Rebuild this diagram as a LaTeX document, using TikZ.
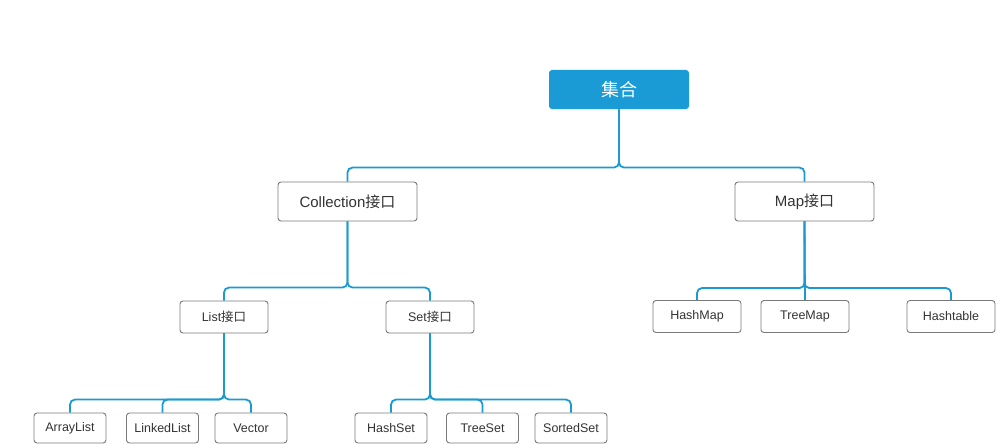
\documentclass[tikz,border=0pt]{standalone}
\usepackage{fontspec}
\setmainfont{Liberation Sans}
\newfontfamily\cjk{Noto Sans CJK SC}
\definecolor{linkblue}{HTML}{1A9AD0}
\definecolor{rootblue}{HTML}{1A9BD6}
\definecolor{boxgray}{HTML}{7A7A7A}
\definecolor{txtgray}{HTML}{333333}
\tikzset{
  box/.style={draw=boxgray, line width=0.9pt, rounded corners=3pt, fill=white,
    text=txtgray, inner sep=0pt, align=center},
  link/.style={draw=linkblue, line width=1.8pt, rounded corners=5pt}
}
\begin{document}
\begin{tikzpicture}[x=1pt,y=-1pt]
      \useasboundingbox (0,0) rectangle (996,444);

      \node[box, draw=none, fill=rootblue, text=white, minimum width=140pt, minimum height=39pt,
        font=\cjk\fontsize{18}{20}\selectfont] (jihe) at (619,89.5) {集合};

      \begin{scope}[every node/.style={box, minimum width=139pt, minimum height=39pt,
          font=\fontsize{15}{17}\selectfont}]
        \node (coll) at (347.5,201.5) {Collection{\cjk 接口}};
        \node (map)  at (804.5,201.5) {Map{\cjk 接口}};
      \end{scope}

      \begin{scope}[every node/.style={box, minimum width=88pt, minimum height=32pt,
          font=\fontsize{12.5}{14}\selectfont}]
        \node (list)    at (224,317)   {List{\cjk 接口}};
        \node (set)     at (430,317)   {Set{\cjk 接口}};
        \node (hashmap) at (697,316.5) {HashMap};
        \node (treemap) at (805,316.5) {TreeMap};
        \node (htable)  at (951,316.5) {Hashtable};
      \end{scope}

      \begin{scope}[every node/.style={box, minimum width=72pt, minimum height=30pt,
          font=\fontsize{12.5}{14}\selectfont}]
        \node (alist)   at (70,428)    {ArrayList};
        \node (llist)   at (162.5,428) {LinkedList};
        \node (vector)  at (251,428)   {Vector};
        \node (hashset) at (391,428)   {HashSet};
        \node (treeset) at (482.5,428) {TreeSet};
        \node (sortset) at (571,428)   {SortedSet};
      \end{scope}

      % bracket links, parent stem down to the bus, then over to each child
      \path[link] (jihe.south) |- ([yshift=14pt]coll.north) -- (coll.north);
      \path[link] (jihe.south) |- ([yshift=14pt]map.north) -- (map.north);
      \path[link] (coll.south) |- ([yshift=13pt]list.north) -- (list.north);
      \path[link] (coll.south) |- ([yshift=13pt]set.north) -- (set.north);
      \path[link] (map.south) |- ([yshift=12pt]hashmap.north) -- (hashmap.north);
      \path[link] (map.south) -- (treemap.north);
      \path[link] (map.south) |- ([yshift=12pt]htable.north) -- (htable.north);
      \path[link] (list.south) |- ([yshift=13pt]alist.north) -- (alist.north);
      \path[link] (list.south) |- ([yshift=13pt]llist.north) -- (llist.north);
      \path[link] (list.south) |- ([yshift=13pt]vector.north) -- (vector.north);
      \path[link] (set.south) |- ([yshift=13pt]hashset.north) -- (hashset.north);
      \path[link] (set.south) |- ([yshift=13pt]treeset.north) -- (treeset.north);
      \path[link] (set.south) |- ([yshift=13pt]sortset.north) -- (sortset.north);

    \end{tikzpicture}
\end{document}
